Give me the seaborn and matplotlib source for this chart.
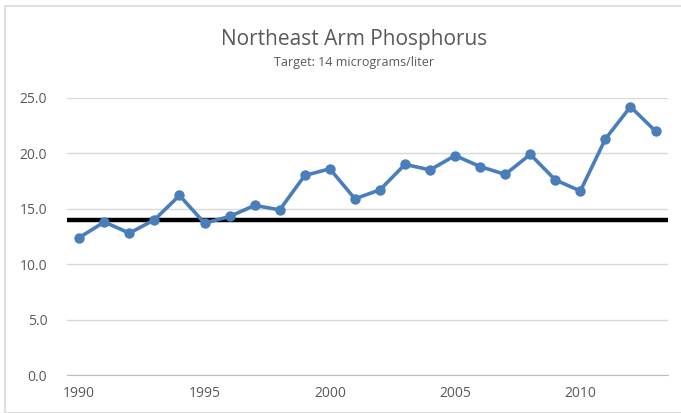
import numpy as np
import pandas as pd
import seaborn as sns
import matplotlib.pyplot as plt
from matplotlib.patches import Rectangle

# Data
years = list(range(1990, 2014))
phosphorus = [12.4, 13.8, 12.8, 14.0, 16.2, 13.7, 14.3, 15.3, 14.9, 18.0, 18.6, 15.9,
              16.7, 19.0, 18.5, 19.8, 18.8, 18.1, 19.9, 17.6, 16.6, 21.3, 24.2, 22.0]
target = 14
y_ticks = [0, 5, 10, 15, 20, 25]
x_labels = [1990, 1995, 2000, 2005, 2010]

df = pd.DataFrame({"year": years, "phosphorus": phosphorus})

sns.set_style("white")
plt.rcParams["font.family"] = ["Open Sans", "DejaVu Sans"]

fig = plt.figure(figsize=(6.81, 4.13), dpi=100)
fig.patches.append(Rectangle((0.008, 0.0), 0.995, 0.985, transform=fig.transFigure,
                             fill=False, edgecolor="#d9d9d9", linewidth=1.2))
ax = fig.add_axes([0.098, 0.092, 0.883, 0.671])

ax.axhline(target, color="black", linewidth=3.2, zorder=2)
sns.lineplot(data=df, x="year", y="phosphorus", ax=ax, color="#4a7ebb",
             linewidth=2.6, marker="o", markersize=7.5, markeredgewidth=0, zorder=3)

ax.set_xlim(years[0] - 0.5, years[-1] + 0.5)
ax.set_ylim(0, 25)
ax.set_yticks(y_ticks)
ax.set_yticklabels([f"{v:.1f}" for v in y_ticks])
ax.set_xticks(x_labels)
ax.set_xticks(np.arange(years[0] - 0.5, years[-1] + 1), minor=True)
ax.grid(axis="y", color="#d9d9d9", linewidth=1)
ax.set_xlabel("")
ax.set_ylabel("")
for side in ["top", "right", "left"]:
    ax.spines[side].set_visible(False)
ax.spines["bottom"].set_color("#bfbfbf")
ax.tick_params(axis="x", which="major", length=0, pad=8, labelsize=10, labelcolor="#595959")
ax.tick_params(axis="x", which="minor", length=6, direction="inout", color="#bfbfbf")
ax.tick_params(axis="y", length=0, pad=14, labelsize=10, labelcolor="#595959")

fig.text(0.52, 0.905, "Northeast Arm Phosphorus", ha="center", va="center",
         fontsize=15, color="#595959")
fig.text(0.52, 0.848, "Target: 14 micrograms/liter", ha="center", va="center",
         fontsize=9, color="#595959")

fig.savefig("out.png", dpi=100)
